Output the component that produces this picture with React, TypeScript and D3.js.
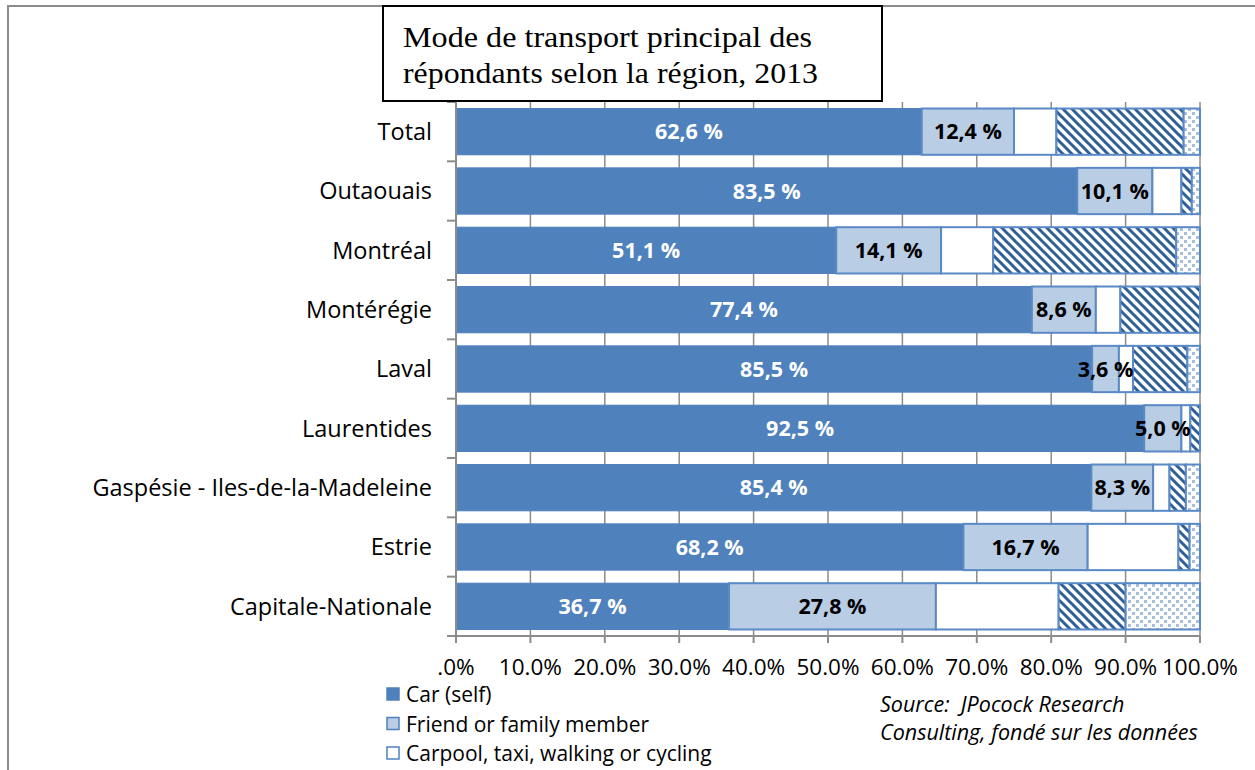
import React from 'react';
import * as d3 from 'd3';

const regions = [
  'Total',
  'Outaouais',
  'Montréal',
  'Montérégie',
  'Laval',
  'Laurentides',
  'Gaspésie - Iles-de-la-Madeleine',
  'Estrie',
  'Capitale-Nationale',
];

const seriesNames = [
  'Car (self)',
  'Friend or family member',
  'Carpool, taxi, walking or cycling',
  'Public transit',
  'Other',
];

const car = [62.6, 83.5, 51.1, 77.4, 85.5, 92.5, 85.4, 68.2, 36.7];
const friend = [12.4, 10.1, 14.1, 8.6, 3.6, 5.0, 8.3, 16.7, 27.8];
const carpool = [5.7, 3.9, 7.0, 3.3, 1.9, 1.2, 2.2, 12.2, 16.5];
const transit = [17.1, 1.4, 24.6, 10.7, 7.3, 1.3, 2.2, 1.5, 9.0];
const other = [2.2, 1.1, 3.2, 0, 1.7, 0, 1.9, 1.4, 10.0];

const tickValues = [0, 10, 20, 30, 40, 50, 60, 70, 80, 90, 100];
const tickLabels = ['.0%', '10.0%', '20.0%', '30.0%', '40.0%', '50.0%', '60.0%', '70.0%', '80.0%', '90.0%', '100.0%'];

const fills = ['#4F81BD', '#B9CDE5', '#FFFFFF', 'url(#hatch)', 'url(#dots)'];
const SANS = '"Open Sans", "Noto Sans", sans-serif';
const SERIF = '"Liberation Serif", "Times New Roman", serif';

const fmt = (v: number) => v.toFixed(1).replace('.', ',') + ' %';

export default function App() {
  const x = d3.scaleLinear().domain([0, 100]).range([456, 1200]);
  const y = d3.scaleBand<string>().domain(regions).range([102, 636]).paddingInner(0.22).paddingOuter(0.11);
  const rows = regions.map((r, i) => ({
    region: r,
    car: car[i],
    friend: friend[i],
    carpool: carpool[i],
    transit: transit[i],
    other: other[i],
  }));
  const keys = ['car', 'friend', 'carpool', 'transit', 'other'];
  const stacked = d3.stack<any>().keys(keys)(rows);
  const step = y.step();

  return (
    <svg width={1255} height={770} style={{ position: 'absolute', left: 0, top: 0, background: '#fff' }}>
      <defs>
        <pattern id="hatch" patternUnits="userSpaceOnUse" width={9} height={9}>
          <rect width={9} height={9} fill="#fff" />
          <path d="M-3,-3 L12,12 M-3,6 L3,12 M6,-3 L12,3" stroke="#2F5F98" strokeWidth={3} />
        </pattern>
        <pattern id="dots" patternUnits="userSpaceOnUse" width={8} height={8}>
          <rect width={8} height={8} fill="#fff" />
          <rect x={0} y={0} width={3} height={3} fill="#A7C0E0" />
          <rect x={4} y={4} width={3} height={3} fill="#A7C0E0" />
        </pattern>
      </defs>

      {/* outer frame */}
      <rect x={8} y={6} width={1260} height={780} fill="none" stroke="#8C8C8C" strokeWidth={2} />

      {/* gridlines */}
      {tickValues.slice(1).map(t => (
        <line key={t} x1={x(t)} x2={x(t)} y1={102} y2={636} stroke="#8C8C8C" strokeWidth={1.5} />
      ))}

      {/* bars */}
      {stacked.map((s, si) => (
        <g key={s.key}>
          {s.map((d, i) => {
            const w = x(d[1]) - x(d[0]);
            if (w <= 0) return null;
            return (
              <rect
                key={i}
                x={x(d[0])}
                y={y(regions[i])}
                width={w}
                height={y.bandwidth()}
                fill={fills[si]}
                stroke={si === 0 ? '#4F81BD' : '#5A8AC6'}
                strokeWidth={si === 0 ? 1 : 2}
              />
            );
          })}
        </g>
      ))}

      {/* value labels */}
      {stacked.slice(0, 2).map((s, si) =>
        s.map((d, i) => (
          <text
            key={`${si}-${i}`}
            x={(x(d[0]) + x(d[1])) / 2}
            y={(y(regions[i]) as number) + y.bandwidth() / 2}
            dy="0.36em"
            textAnchor="middle"
            fontFamily={SANS}
            fontWeight="bold"
            fontSize={21.5}
            fill={si === 0 ? '#fff' : '#000'}
          >
            {fmt(d[1] - d[0])}
          </text>
        ))
      )}

      {/* axes */}
      <line x1={456} x2={1200} y1={636} y2={636} stroke="#8C8C8C" strokeWidth={2} />
      <line x1={456} x2={456} y1={102} y2={636} stroke="#8C8C8C" strokeWidth={2} />
      {tickValues.map((t, i) => (
        <g key={t}>
          <line x1={x(t)} x2={x(t)} y1={636} y2={643} stroke="#8C8C8C" strokeWidth={2} />
          <text x={x(t)} y={675} textAnchor="middle" fontFamily={SANS} fontSize={22.5} fill="#000">
            {tickLabels[i]}
          </text>
        </g>
      ))}
      {d3.range(regions.length + 1).map(i => (
        <line key={i} x1={447} x2={456} y1={102 + i * step} y2={102 + i * step} stroke="#8C8C8C" strokeWidth={2} />
      ))}
      {regions.map(r => (
        <text
          key={r}
          x={432}
          y={(y(r) as number) + y.bandwidth() / 2}
          dy="0.36em"
          textAnchor="end"
          fontFamily={SANS}
          fontSize={23.5}
          fill="#000"
        >
          {r}
        </text>
      ))}

      {/* legend */}
      {seriesNames.slice(0, 3).map((n, i) => (
        <g key={n}>
          <rect x={387} y={688 + i * 29.5} width={12} height={12} fill={fills[i]} stroke="#4F81BD" strokeWidth={1.5} />
          <text x={406} y={702 + i * 29.5} fontFamily={SANS} fontSize={21} fill="#000">
            {n}
          </text>
        </g>
      ))}

      {/* source */}
      <text x={880} y={712} fontFamily={SANS} fontStyle="italic" fontSize={21.5} fill="#000" style={{ whiteSpace: 'pre' }}>
        {'Source:  JPocock Research'}
      </text>
      <text x={880} y={740} fontFamily={SANS} fontStyle="italic" fontSize={21.5} fill="#000">
        Consulting, fondé sur les données
      </text>

      {/* title box */}
      <rect x={383} y={6} width={499} height={95} fill="#fff" stroke="#000" strokeWidth={2} />
      <text x={403} y={47} fontFamily={SERIF} fontSize={29} fill="#000" textLength={409} lengthAdjust="spacingAndGlyphs">
        Mode de transport principal des
      </text>
      <text x={403} y={83} fontFamily={SERIF} fontSize={29} fill="#000" textLength={415} lengthAdjust="spacingAndGlyphs">
        répondants selon la région, 2013
      </text>
    </svg>
  );
}
